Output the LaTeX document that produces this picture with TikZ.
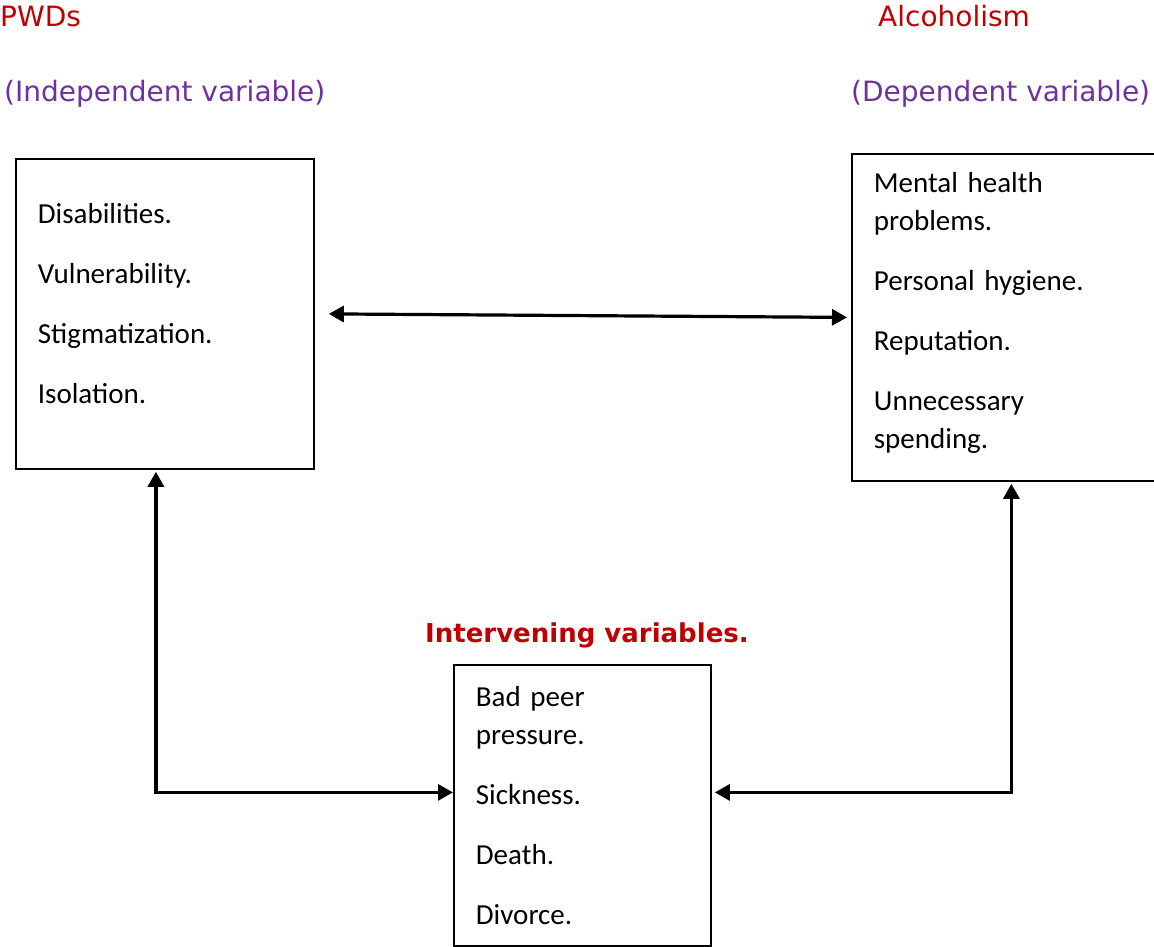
\documentclass[tikz,border=0pt]{standalone}
\usepackage{fontspec}
\setmainfont{Carlito}
\newfontfamily\headfont{DejaVu Sans}
\usetikzlibrary{arrows.meta,positioning,calc}
\definecolor{titlered}{RGB}{192,0,0}
\definecolor{varpurple}{RGB}{112,48,160}

\begin{document}
\begin{tikzpicture}[x=1pt, y=-1pt,
    heading/.style={inner sep=0pt, anchor=base west, font=\headfont\fontsize{28}{34}\selectfont},
    varbox/.style={draw, line width=1.8pt, anchor=north west, align=left, inner xsep=22pt, inner ysep=0pt, font=\fontsize{29}{38}\selectfont},
    link/.style={line width=3.2pt, {Triangle[length=15pt,width=16pt]}-{Triangle[length=15pt,width=16pt]}}]

\useasboundingbox (0,0) rectangle (1154,947);

% Headings
\node[heading, text=titlered] (pwdtitle) at (0,27) {PWDs};
\node[heading, text=varpurple] (indeptitle) at (4,102) {(Independent variable)};
\node[heading, text=titlered] (alctitle) at (878,27) {Alcoholism};
\node[heading, text=varpurple] (deptitle) at (851,102) {(Dependent variable)};
\node[heading, text=titlered, font=\headfont\bfseries\fontsize{26}{32}\selectfont] (intertitle) at (425,642) {Intervening variables.};

% Variable boxes
\node[varbox, minimum width=298pt, minimum height=310pt, text width=254pt, text depth=201pt] (pwd) at (15,158) {
    Disabilities.\\[22pt]
    Vulnerability.\\[22pt]
    Stigmatization.\\[22pt]
    Isolation.
};

\node[varbox, minimum width=309pt, minimum height=327pt, text width=265pt, text depth=269pt] (alc) at (851,153) {
    Mental health\\
    problems.\\[22pt]
    Personal hygiene.\\[22pt]
    Reputation.\\[22pt]
    Unnecessary\\
    spending.
};

\node[varbox, minimum width=257pt, minimum height=281pt, text width=213pt] (inter) at (453,664) {
    Bad peer\\
    pressure.\\[22pt]
    Sickness.\\[22pt]
    Death.\\[22pt]
    Divorce.
};

% Links between the variables
\draw[link] ([xshift=14pt]pwd.east) -- ([xshift=-4pt]alc.west);
\draw[link] ([xshift=-9pt,yshift=-2pt]pwd.south) |- ([yshift=13pt]inter.west);
\draw[link] ([xshift=5pt,yshift=-2pt]alc.south) |- ([xshift=3pt,yshift=13pt]inter.east);

\end{tikzpicture}
\end{document}
